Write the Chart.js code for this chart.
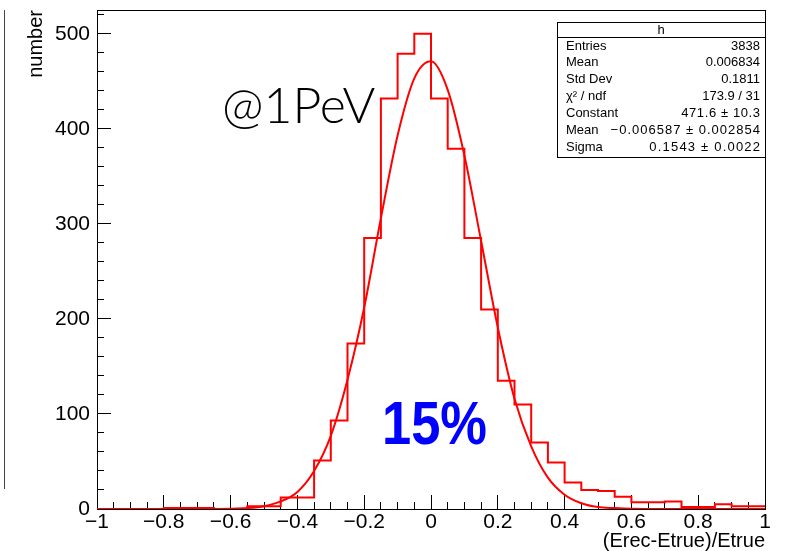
<!DOCTYPE html>
<html>
<head>
<meta charset="utf-8">
<script src="https://cdn.jsdelivr.net/npm/chart.js@4.4.1/dist/chart.umd.min.js"></script>
<style>
  html, body { margin: 0; padding: 0; background: #fff; }
  #wrap { position: relative; width: 785px; height: 551px; }
</style>
</head>
<body>
<div id="wrap"><canvas id="histo"></canvas></div>
<script>
// histogram "h": 40 bins of 0.05 between -1 and 1
const xMin = -1;
const xMax = 1;
const binWidth = 0.05;
const counts = [0, 0, 0, 0, 1, 1, 1, 0, 0, 3,
                3, 12, 12, 51, 93, 174, 285, 432, 479, 500,
                432, 379, 285, 210, 135, 110, 70, 49, 28, 20,
                19, 13, 7, 7, 8, 2, 2, 5, 3, 3];

// gaus fit curve
const fitX = [-1, -0.7, -0.6, -0.55, -0.5, -0.45, -0.4, -0.35, -0.3, -0.25, -0.2, -0.15, -0.1, -0.05,
              0, 0.05, 0.1, 0.15, 0.2, 0.25, 0.3, 0.35, 0.4, 0.45, 0.5, 0.55, 0.6, 0.7, 1];
const fitY = [0, 0, 0.3, 1, 3, 8, 18, 40, 77, 136, 212, 306, 393, 453,
              471, 441, 372, 282, 191, 116, 66, 33, 15, 6, 2, 1, 0.3, 0, 0];

const yMax = 525;

// stats box
const statsTitle = "h";
const statsLabels = ["Entries", "Mean", "Std Dev", "\u03c7\u00b2 / ndf", "Constant", "Mean", "Sigma"];
const statsValues = ["3838", "0.006834", "0.1811", "173.9 / 31", "471.6 \u00b1 10.3",
                     "\u22120.006587 \u00b1 0.002854", "0.1543 \u00b1 0.0022"];

const energyLabel = "@1PeV";
const resolutionLabel = "15%";

// histogram outline points: left edge of every bin + closing point
const histPoints = counts.map((c, i) => ({ x: xMin + i * binWidth, y: c }));
histPoints.push({ x: xMax, y: counts[counts.length - 1] });
const fitPoints = fitX.map((x, i) => ({ x: x, y: fitY[i] }));

const labelFont = { family: "'Liberation Sans', Arial, sans-serif", size: 21 };
const titleFont = { family: "'Liberation Sans', Arial, sans-serif", size: 20, lineHeight: 1 };

function fmtX(v) {
  if (Math.abs(v) < 1e-9) return "0";
  return String(Math.round(v * 10) / 10).replace("-", "\u2212");
}

// no extra padding from the outer tick labels
function noPadX(s, h) { s.height = h; s.paddingLeft = 0; s.paddingRight = 0; }
function noPadY(s, w) { s.width = w; s.paddingTop = 0; s.paddingBottom = 0; }

// ROOT style frame, text and stats box
const rootDecor = {
  id: "rootDecor",
  beforeDatasetsDraw(chart) {
    const { ctx, chartArea: a } = chart;
    ctx.save();
    ctx.strokeStyle = "#000";
    ctx.lineWidth = 1;
    ctx.strokeRect(Math.round(a.left) + 0.5, Math.round(a.top) + 0.5,
                   Math.round(a.right - a.left), Math.round(a.bottom - a.top));
    // edge of the neighbouring pad
    ctx.strokeStyle = "#444";
    ctx.beginPath();
    ctx.moveTo(4.5, 10);
    ctx.lineTo(4.5, 489);
    ctx.stroke();
    ctx.restore();
  },
  afterDraw(chart) {
    const { ctx } = chart;
    ctx.save();
    // labels on the plot
    ctx.fillStyle = "#000";
    ctx.font = "300 50px Lato, 'Open Sans', sans-serif";
    ctx.textAlign = "left";
    ctx.textBaseline = "alphabetic";
    ctx.fillText(energyLabel, 222, 123);

    ctx.save();
    ctx.fillStyle = "#0000ff";
    ctx.font = "bold 61px 'Liberation Sans', Arial, sans-serif";
    ctx.translate(382, 444);
    ctx.scale(0.86, 1);
    ctx.fillText(resolutionLabel, 0, 0);
    ctx.restore();

    // stats box
    const bx = 557, by = 22, bw = 208, bh = 135;
    ctx.fillStyle = "#fff";
    ctx.fillRect(bx, by, bw, bh);
    ctx.strokeStyle = "#000";
    ctx.lineWidth = 1;
    ctx.strokeRect(bx + 0.5, by + 0.5, bw, bh);
    ctx.beginPath();
    ctx.moveTo(bx, by + 15.5);
    ctx.lineTo(bx + bw, by + 15.5);
    ctx.stroke();
    ctx.fillStyle = "#000";
    ctx.font = "13px 'Liberation Sans', Arial, sans-serif";
    ctx.textBaseline = "middle";
    ctx.textAlign = "center";
    ctx.fillText(statsTitle, bx + bw / 2, by + 8);
    // fit lines are set a little looser in ROOT's latex
    const spacing = [0, 0, 0, 0, 0.6, 1.0, 1.2];
    statsLabels.forEach((lab, i) => {
      const y = by + 24 + i * 16.9;
      ctx.letterSpacing = "0px";
      ctx.textAlign = "left";
      ctx.fillText(lab, bx + 9, y);
      ctx.letterSpacing = spacing[i] + "px";
      ctx.textAlign = "right";
      ctx.fillText(statsValues[i], bx + bw - 5 + spacing[i], y);
    });
    ctx.restore();
  }
};

new Chart(document.getElementById("histo"), {
  type: "line",
  data: {
    datasets: [
      {
        label: "h",
        data: histPoints,
        stepped: "before",
        borderColor: "#ff0000",
        borderWidth: 2,
        pointRadius: 0,
        fill: false
      },
      {
        label: "gaus",
        data: fitPoints,
        cubicInterpolationMode: "monotone",
        borderColor: "#ff0000",
        borderWidth: 2,
        pointRadius: 0,
        fill: false
      }
    ]
  },
  options: {
    responsive: true,
    maintainAspectRatio: false,
    animation: false,
    layout: { padding: { left: 0, top: 10, right: 20, bottom: 0 } },
    plugins: {
      legend: { display: false },
      tooltip: { enabled: false }
    },
    scales: {
      x: {
        type: "linear",
        position: "bottom",
        weight: 1,
        min: xMin,
        max: xMax,
        ticks: { stepSize: 0.2, padding: 15, color: "#000", font: labelFont,
                 callback: fmtX, autoSkip: false, maxRotation: 0 },
        grid: { drawOnChartArea: false, tickLength: -14, tickColor: "#000" },
        border: { display: false },
        title: { display: true, text: "(Erec-Etrue)/Etrue", align: "end",
                 color: "#000", font: titleFont, padding: 0 },
        afterFit(s) { noPadX(s, 42); }
      },
      xMinor: {
        type: "linear",
        position: "bottom",
        weight: 0,
        min: xMin,
        max: xMax,
        ticks: { display: false, stepSize: 0.05, autoSkip: false },
        grid: { drawOnChartArea: false, tickLength: -7, tickColor: "#000" },
        border: { display: false },
        afterFit(s) { noPadX(s, 0); }
      },
      y: {
        type: "linear",
        position: "left",
        weight: 1,
        min: 0,
        max: yMax,
        ticks: { stepSize: 100, includeBounds: false, padding: 21, color: "#000", font: labelFont },
        grid: { drawOnChartArea: false, tickLength: -14, tickColor: "#000" },
        border: { display: false },
        title: { display: true, text: "number", align: "end",
                 color: "#000", font: titleFont, padding: { top: 26 } },
        afterFit(s) { noPadY(s, 97); }
      },
      yMinor: {
        type: "linear",
        position: "left",
        weight: 0,
        min: 0,
        max: yMax,
        ticks: { display: false, stepSize: 20, includeBounds: false },
        grid: { drawOnChartArea: false, tickLength: -7, tickColor: "#000" },
        border: { display: false },
        afterFit(s) { noPadY(s, 0); }
      }
    }
  },
  plugins: [rootDecor]
});
</script>
</body>
</html>
